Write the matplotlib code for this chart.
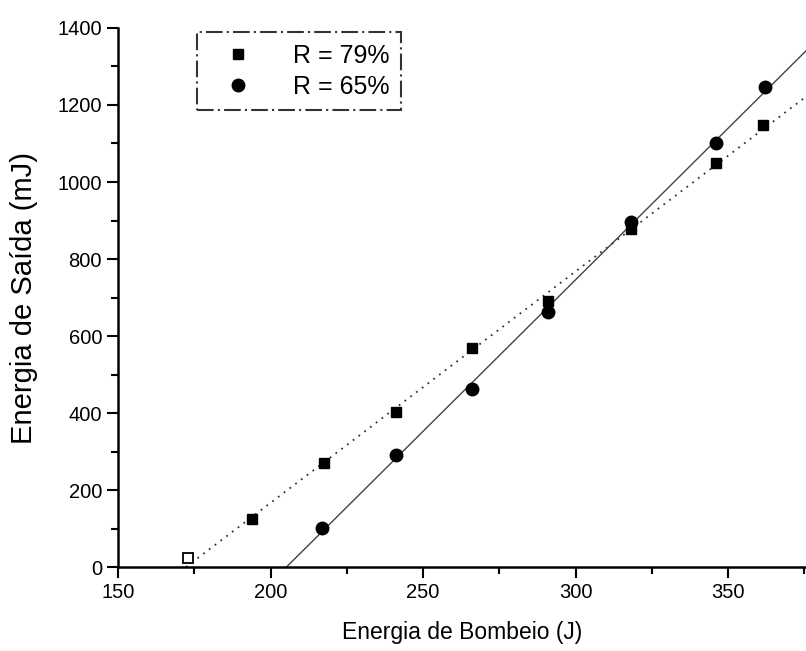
import numpy as np
import matplotlib.pyplot as plt
from matplotlib.ticker import MultipleLocator

plt.rcParams['font.family'] = ['Liberation Sans', 'DejaVu Sans']

# pump energy (J) and output energy (mJ)
bombeio_79 = [173, 194, 217.5, 241, 266, 291, 318, 346, 361.5]
saida_79 = [23, 125, 270, 402, 569, 690, 878, 1050, 1148]
bombeio_65 = [217, 241, 266, 291, 318, 346, 362]
saida_65 = [101, 291, 462, 662, 896, 1100, 1247]

x_min, x_max = 150, 375.5

fig = plt.figure(figsize=(8.06, 6.51), dpi=100)
ax = fig.add_axes([0.1464, 0.129, 0.8536, 0.828])

# linear fits
a79, b79 = np.polyfit(bombeio_79, saida_79, 1)
a65, b65 = np.polyfit(bombeio_65, saida_65, 1)
xf79 = np.array([-b79 / a79, x_max])
xf65 = np.array([-b65 / a65, x_max])
ax.plot(xf79, a79 * xf79 + b79, linestyle=(0, (1, 3)), color='#333333', lw=1.3)
ax.plot(xf65, a65 * xf65 + b65, '-', color='#444444', lw=1.0)

ax.plot(bombeio_79[:1], saida_79[:1], 's', ms=7, mfc='white', mec='black', mew=1.3)
ax.plot(bombeio_79[1:], saida_79[1:], 's', ms=7, color='black', label='R = 79%')
ax.plot(bombeio_65, saida_65, 'o', ms=9, color='black', label='R = 65%')

ax.set_xlim(x_min, x_max)
ax.set_ylim(0, 1400)
ax.xaxis.set_major_locator(MultipleLocator(50))
ax.xaxis.set_minor_locator(MultipleLocator(25))
ax.yaxis.set_major_locator(MultipleLocator(200))
ax.yaxis.set_minor_locator(MultipleLocator(100))
ax.tick_params(which='major', direction='out', length=8, width=1.5, labelsize=14.5)
ax.tick_params(which='minor', direction='out', length=5, width=1.5)
ax.spines['top'].set_visible(False)
ax.spines['right'].set_visible(False)
ax.spines['left'].set_linewidth(1.8)
ax.spines['bottom'].set_linewidth(1.8)

ax.set_xlabel('Energia de Bombeio (J)', fontsize=16.5, labelpad=14)
ax.set_ylabel('Energia de Saída (mJ)', fontsize=21, labelpad=14)

leg = ax.legend(loc='upper left', bbox_to_anchor=(0.115, 0.992), fontsize=18,
                frameon=True, fancybox=False, handletextpad=1.0,
                borderpad=0.45, labelspacing=0.3, handlelength=2.4,
                borderaxespad=0)
leg.get_frame().set_edgecolor('black')
leg.get_frame().set_linewidth(1.5)
leg.get_frame().set_linestyle((0, (8, 2, 1, 2)))

fig.savefig('out.png', dpi=100)
